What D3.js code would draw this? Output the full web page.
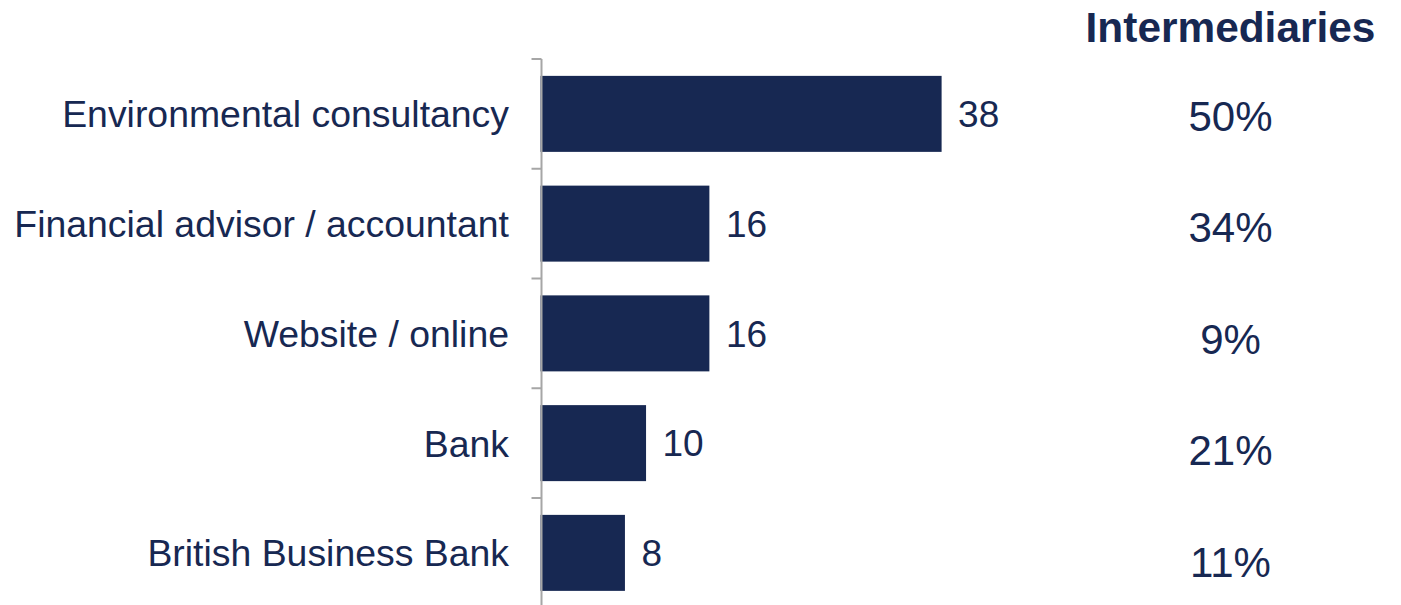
<!DOCTYPE html>
<html>
<head>
<meta charset="utf-8">
<script src="https://cdn.jsdelivr.net/npm/d3@7"></script>
<style>
  html, body { margin: 0; padding: 0; background: #ffffff; }
  svg { display: block; font-family: "Liberation Sans", Arial, sans-serif; }
</style>
</head>
<body>
<svg id="chart" width="1401" height="605"></svg>
<script>
// Sources used, with counts and the share among intermediaries
const categories = [
  "Environmental consultancy",
  "Financial advisor / accountant",
  "Website / online",
  "Bank",
  "British Business Bank"
];
const counts = [38, 16, 16, 10, 8];
const intermediaryShares = ["50%", "34%", "9%", "21%", "11%"];
const columnTitle = "Intermediaries";

const navy = "#172852";
const axisGrey = "#a6a6a6";

const svg = d3.select("#chart");

const pad = 0.3075;
const y = d3.scaleBand()
  .domain(categories)
  .range([59, 59 + 5 * 109.75])
  .paddingInner(pad)
  .paddingOuter(pad / 2);

const x = d3.scaleLinear()
  .domain([0, 38])
  .range([540.5, 941.6]);

// Bars
svg.append("g")
  .selectAll("rect")
  .data(categories)
  .join("rect")
  .attr("x", x(0))
  .attr("y", d => y(d))
  .attr("width", (d, i) => x(counts[i]) - x(0))
  .attr("height", y.bandwidth())
  .attr("fill", navy);

// Vertical axis with ticks between categories
const axisX = 541.5;
const axis = svg.append("g").attr("stroke", axisGrey).attr("stroke-width", 2);
axis.append("line")
  .attr("x1", axisX).attr("x2", axisX)
  .attr("y1", y.range()[0]).attr("y2", y.range()[1]);
axis.selectAll("line.tick")
  .data(categories)
  .join("line")
  .attr("class", "tick")
  .attr("x1", axisX - 10).attr("x2", axisX)
  .attr("y1", d => y(d) - y.step() * pad / 2)
  .attr("y2", d => y(d) - y.step() * pad / 2);

// Category labels
svg.append("g")
  .selectAll("text")
  .data(categories)
  .join("text")
  .attr("x", 509)
  .attr("y", d => y(d) + y.bandwidth() / 2)
  .attr("dy", "0.36em")
  .attr("text-anchor", "end")
  .attr("font-size", 37.4)
  .attr("fill", navy)
  .text(d => d);

// Value labels
svg.append("g")
  .selectAll("text")
  .data(categories)
  .join("text")
  .attr("x", (d, i) => x(counts[i]) + 16.5)
  .attr("y", d => y(d) + y.bandwidth() / 2)
  .attr("dy", "0.36em")
  .attr("font-size", 37)
  .attr("fill", navy)
  .text((d, i) => counts[i]);

// Intermediaries column
const colX = 1230.5;
svg.append("text")
  .attr("x", colX)
  .attr("y", 41.5)
  .attr("text-anchor", "middle")
  .attr("font-size", 42.4)
  .attr("font-weight", "bold")
  .attr("fill", navy)
  .text(columnTitle);

const rowY = d3.scalePoint()
  .domain(categories)
  .range([130.5, 576.5]);

svg.append("g")
  .selectAll("text")
  .data(categories)
  .join("text")
  .attr("x", colX)
  .attr("y", d => rowY(d))
  .attr("text-anchor", "middle")
  .attr("font-size", 42)
  .attr("fill", navy)
  .text((d, i) => intermediaryShares[i]);
</script>
</body>
</html>
